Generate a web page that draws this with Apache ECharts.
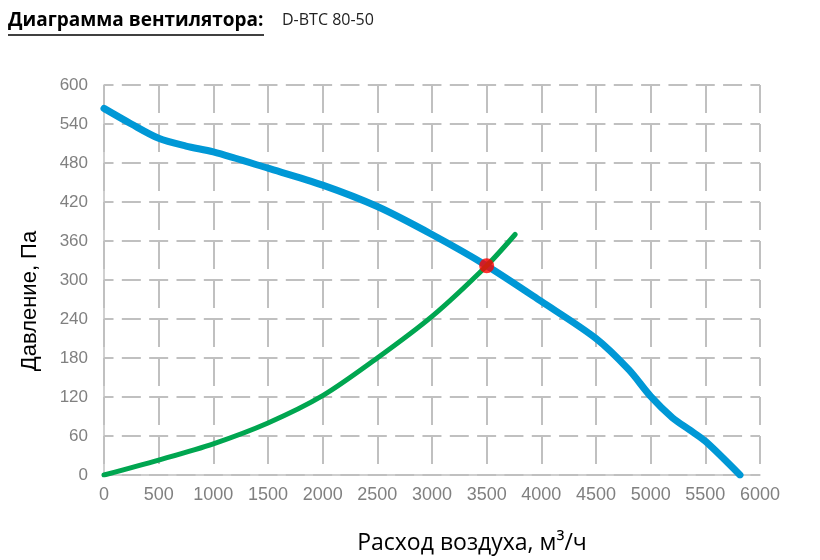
<!DOCTYPE html>
<html>
<head>
<meta charset="utf-8">
<script src="https://cdn.jsdelivr.net/npm/echarts@6/dist/echarts.min.js"></script>
<style>html,body{margin:0;padding:0;background:#fff;}#c{width:820px;height:560px;}</style>
</head>
<body>
<div id="c"></div>
<script>
// Fan curve: flow (m3/h) -> pressure (Pa)
const fanFlow     = [0, 250, 500, 750, 1000, 1500, 2000, 2500, 3000, 3500, 4000, 4500, 4800, 5000, 5200, 5360, 5500, 5817];
const fanPressure = [564, 540, 518, 506, 497, 472, 446, 413, 370, 322, 267, 210, 162, 121, 88, 69, 52, 0];
// Network (system) curve
const netFlow     = [0, 500, 1000, 1500, 2000, 2500, 3000, 3500, 3760];
const netPressure = [0, 23, 48, 80, 122, 180, 244, 322, 370];
// Operating point
const workPoint = [3500, 322];
const xTicks = {min: 0, max: 6000, step: 500};
const yTicks = {min: 0, max: 600, step: 60};

const chart = echarts.init(document.getElementById('c'));
const gridColor = '#c0c0c0';
chart.setOption({
  animation: false,
  grid: {left: 104, right: 60, top: 85, bottom: 85},
  graphic: [
    {type: 'text', left: 8, top: 11, style: {text: 'Диаграмма вентилятора:', font: 'bold 19px "Open Sans", sans-serif', fill: '#000'}},
    {type: 'line', shape: {x1: 8, y1: 35, x2: 264, y2: 35}, style: {stroke: '#000', lineWidth: 1.5}},
    {type: 'text', left: 282, top: 12, style: {text: 'D-BTC 80-50', font: '16px "Open Sans", sans-serif', fill: '#222'}},
    {type: 'text', x: 472, y: 543, style: {text: 'Расход воздуха, м³/ч', font: '23px "Open Sans", sans-serif', fill: '#000', align: 'center', verticalAlign: 'middle'}},
    {type: 'text', x: 30, y: 301, rotation: Math.PI / 2, style: {text: 'Давление, Па', font: '22px "Liberation Sans", Arial, sans-serif', fill: '#000', align: 'center', verticalAlign: 'middle'}}
  ],
  xAxis: {
    type: 'value', min: xTicks.min, max: xTicks.max, interval: xTicks.step,
    axisLine: {show: true, lineStyle: {color: gridColor, width: 1.5}},
    axisTick: {show: false},
    axisLabel: {color: '#808080', fontSize: 18, fontFamily: '"Liberation Sans", Arial', margin: 11, formatter: v => String(v)},
    splitLine: {show: true, lineStyle: {color: gridColor, width: 2, type: [28, 11], dashOffset: 0}}
  },
  yAxis: {
    type: 'value', min: yTicks.min, max: yTicks.max, interval: yTicks.step,
    axisLine: {show: true, lineStyle: {color: gridColor, width: 1.5}},
    axisTick: {show: false},
    axisLabel: {color: '#808080', fontSize: 17, fontFamily: '"Liberation Sans", Arial', margin: 16, formatter: v => String(v)},
    splitLine: {show: true, lineStyle: {color: gridColor, width: 2, type: [19, 8.33], dashOffset: 9.5}}
  },
  series: [
    {
      type: 'line', name: 'fan', smooth: 0.3, showSymbol: false,
      data: fanFlow.map((f, i) => [f, fanPressure[i]]),
      lineStyle: {color: '#0098d6', width: 7, cap: 'round'}, z: 2
    },
    {
      type: 'line', name: 'net', smooth: 0.3, showSymbol: false,
      data: netFlow.map((f, i) => [f, netPressure[i]]),
      lineStyle: {color: '#00a650', width: 5, cap: 'round'}, z: 3
    },
    {
      type: 'scatter', name: 'point', data: [workPoint], symbolSize: 15,
      itemStyle: {color: '#ff0000'}, z: 5
    }
  ]
});
</script>
</body>
</html>
